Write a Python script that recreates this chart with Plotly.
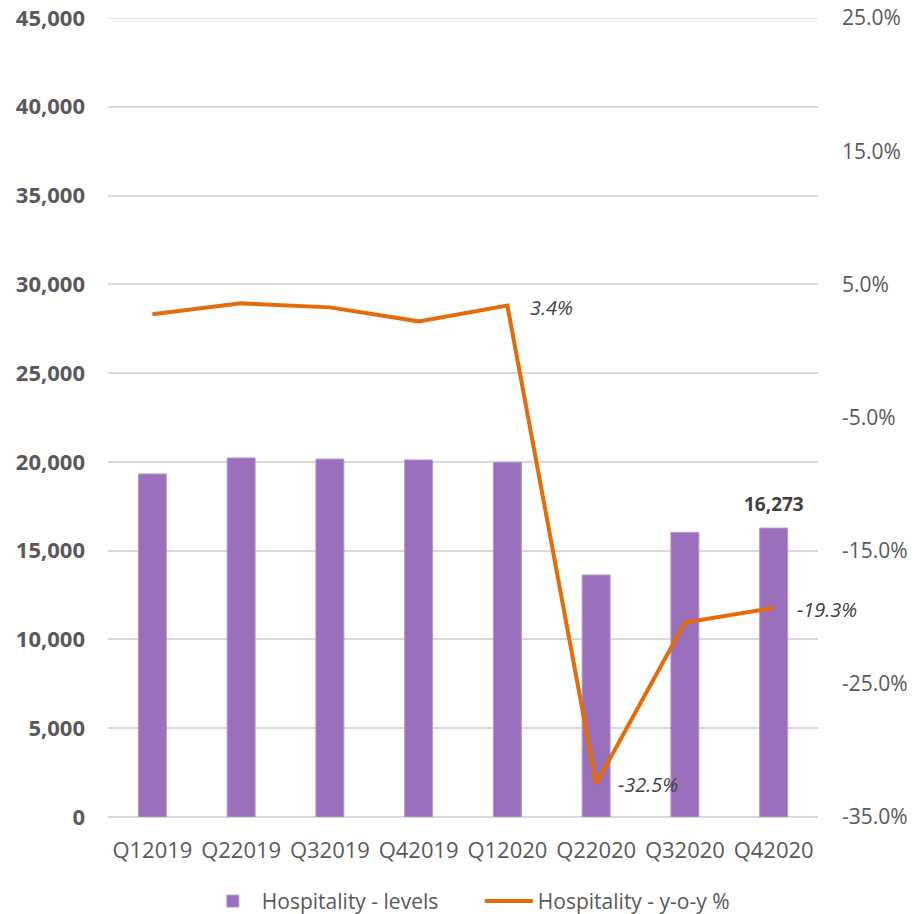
import plotly.graph_objects as go

quarters = ["Q12019", "Q22019", "Q32019", "Q42019", "Q12020", "Q22020", "Q32020", "Q42020"]
levels = [19320, 20220, 20160, 20110, 19980, 13630, 16030, 16273]
yoy_pct = [2.75, 3.57, 3.27, 2.22, 3.4, -32.5, -20.4, -19.3]

left_ticks = [0, 5000, 10000, 15000, 20000, 25000, 30000, 35000, 40000, 45000]
right_ticks = [-35, -25, -15, -5, 5, 15, 25]
right_labels = [f"{v:.1f}%" for v in right_ticks]

FONT = "Open Sans"
GRAY = "#595959"
GRID = "#d9d9d9"

fig = go.Figure()
fig.add_trace(go.Bar(
    x=quarters, y=levels, name="Hospitality - levels",
    marker=dict(color="#9a70bc", line=dict(color="#b596d0", width=1)),
    yaxis="y",
))
fig.add_trace(go.Scatter(
    x=quarters, y=yoy_pct, name="Hospitality - y-o-y %",
    mode="lines", line=dict(color="#e46c0a", width=4),
    yaxis="y2",
))

# top gridline (plotly clips grid lines at the range edge)
fig.add_shape(type="line", xref="paper", yref="y", x0=0, x1=1,
              y0=left_ticks[-1], y1=left_ticks[-1],
              line=dict(color=GRID, width=1.5), layer="below")

ann_font = dict(family=FONT, size=20, color="#404040")
fig.add_annotation(x=quarters[4], y=yoy_pct[4], xref="x", yref="y2",
                   text="<i>3.4%</i>", showarrow=False, xanchor="left",
                   xshift=21, yshift=-2, font=ann_font)
fig.add_annotation(x=quarters[5], y=yoy_pct[5], xref="x", yref="y2",
                   text="<i>-32.5%</i>", showarrow=False, xanchor="left",
                   xshift=20, yshift=-1, font=ann_font)
fig.add_annotation(x=quarters[7], y=yoy_pct[7], xref="x", yref="y2",
                   text="<i>-19.3%</i>", showarrow=False, xanchor="left",
                   xshift=21, yshift=-2, font=ann_font)
fig.add_annotation(x=quarters[7], y=levels[7], xref="x", yref="y",
                   text="<b>16,273</b>", showarrow=False, yanchor="middle",
                   yshift=24, font=dict(family=FONT, size=19, color="#404040"))

fig.update_layout(
    width=919, height=914,
    margin=dict(l=108, r=101, t=18, b=97, autoexpand=False),
    paper_bgcolor="white", plot_bgcolor="white",
    bargap=0.685,
    showlegend=True,
    legend=dict(orientation="h", x=0.135, xanchor="left", y=-0.08, yanchor="top",
                font=dict(family=FONT, size=21, color=GRAY), itemwidth=48,
                entrywidth=213, entrywidthmode="pixels"),
    xaxis=dict(range=[-0.5, 7.5], showgrid=False, showline=False, ticks="",
               automargin=False, ticklabelstandoff=18,
               tickfont=dict(family=FONT, size=22, color=GRAY)),
    yaxis=dict(range=[0, 45000], tickvals=left_ticks, tickformat=",d",
               showgrid=True, gridcolor=GRID, gridwidth=1.5,
               zeroline=True, zerolinecolor=GRID, zerolinewidth=1.5,
               showline=False, ticks="", ticklabelstandoff=22, automargin=False,
               tickfont=dict(family=FONT, size=22, color=GRAY, weight="bold")),
    yaxis2=dict(range=[-35, 25], tickvals=right_ticks, ticktext=right_labels,
                overlaying="y", side="right", showgrid=False, zeroline=False,
                showline=False, ticks="", ticklabelstandoff=23, automargin=False,
                tickfont=dict(family=FONT, size=21, color=GRAY)),
)

fig.write_html("out.html", config={"displayModeBar": False},
               post_script="document.body.style.margin='0';")
